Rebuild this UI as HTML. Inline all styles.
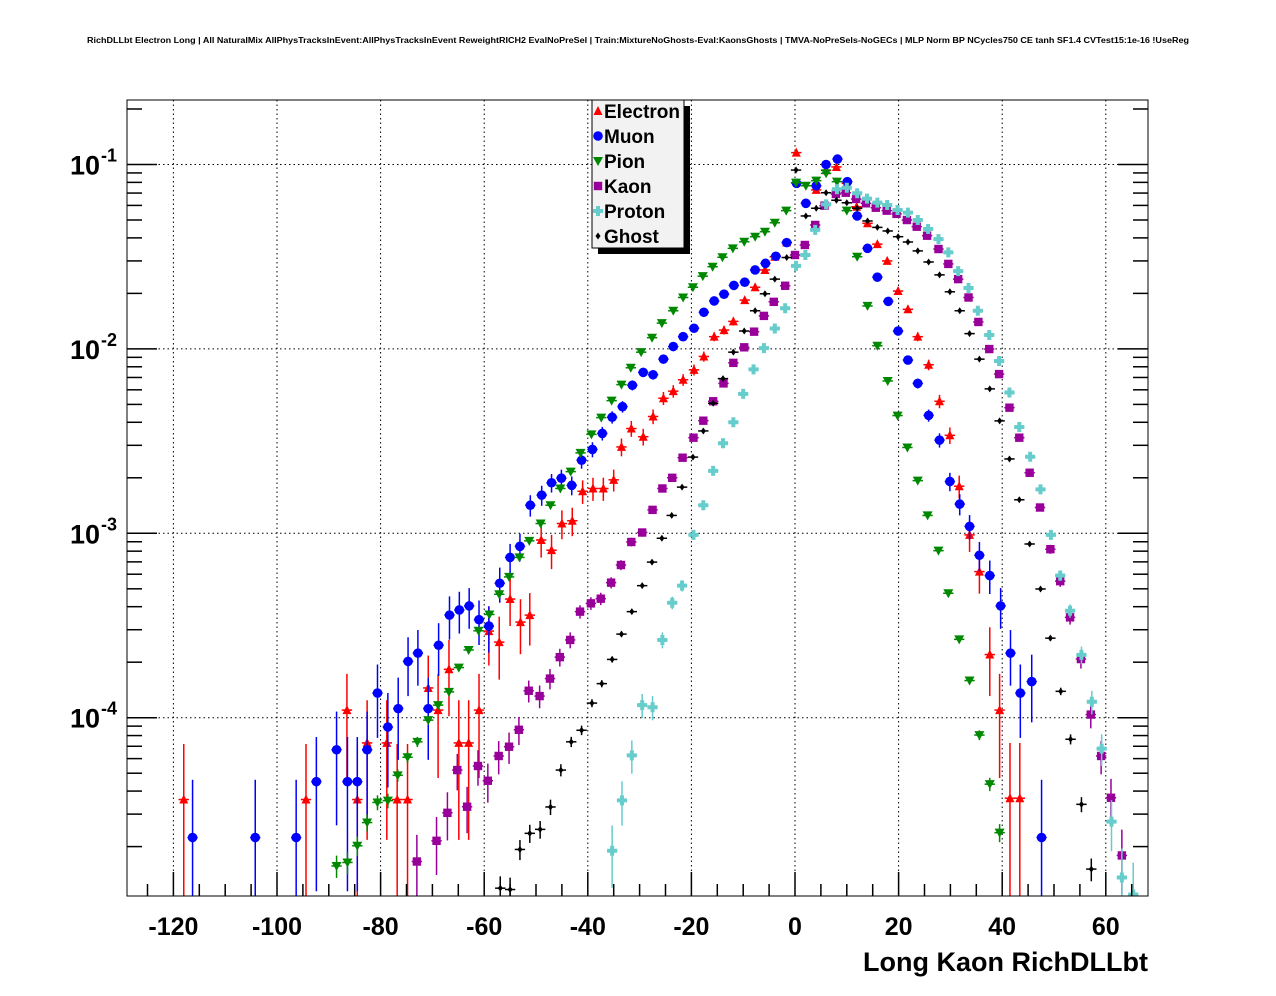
<!DOCTYPE html>
<html><head><meta charset="utf-8"><style>
html,body{margin:0;padding:0;background:#fff;overflow:hidden;width:1276px;height:996px;}
svg{display:block;font-family:"Liberation Sans",Arial,sans-serif;}
</style></head><body>
<svg id="chart" width="1276" height="996" viewBox="0 0 1276 996" xmlns="http://www.w3.org/2000/svg" overflow="hidden">
<rect x="0" y="0" width="1276" height="996" fill="#fff"/>
<text x="638" y="43" font-size="8" font-weight="bold" text-anchor="middle" textLength="1102" lengthAdjust="spacingAndGlyphs">RichDLLbt Electron Long | All NaturalMix AllPhysTracksInEvent:AllPhysTracksInEvent ReweightRICH2 EvalNoPreSel | Train:MixtureNoGhosts-Eval:KaonsGhosts | TMVA-NoPreSels-NoGECs | MLP Norm BP NCycles750 CE tanh SF1.4 CVTest15:1e-16 !UseReg</text>
<defs><clipPath id="frameClip"><rect x="127" y="100" width="1021" height="796"/></clipPath></defs>
<g id="grid"></g>
<g id="marks" clip-path="url(#frameClip)"></g>
<rect x="127" y="100" width="1021" height="796" fill="none" stroke="#000" stroke-width="1"/>
<g id="axes"></g>
<text x="1148" y="971" font-size="27" font-weight="bold" text-anchor="end">Long Kaon RichDLLbt</text>
<g id="legend">
<rect x="598" y="106" width="92" height="148" fill="#000"/>
<rect x="592" y="100" width="92" height="148" fill="#f2f2f2" stroke="#000" stroke-width="1"/>
</g>
</svg>
<script>
// Data arrays (x = Long Kaon RichDLLbt, y = normalised entries)
const electronX=[-118,-94.4,-86.5,-84.5,-82.6,-78.8,-76.8,-74.8,-70.8,-68.9,-66.8,-64.9,-63,-61,-59.1,-57.1,-55,-53,-51.2,-49,-47,-45,-43,-41,-39,-37,-35,-33.5,-31.6,-29.3,-27.4,-25.4,-23.5,-21.6,-19.5,-17.6,-15.6,-13.7,-11.9,-9.7,-7.7,-5.8,-3.9,-1.6,0.25,4.1,6,8,10,11.9,14,15.9,17.8,19.9,21.8,23.7,25.8,27.9,29.9,31.7,33.7,35.6,37.6,39.5,41.5,43.4];
const electronY=[3.6e-5,3.6e-5,1.1e-4,3.6e-5,7.3e-5,7.3e-5,3.6e-5,3.6e-5,1.45e-4,1.1e-4,1.83e-4,7.3e-5,7.3e-5,1.1e-4,2.95e-4,2.57e-4,4.4e-4,3.3e-4,3.6e-4,9.2e-4,8.1e-4,1.13e-3,1.17e-3,1.69e-3,1.75e-3,1.75e-3,1.95e-3,2.94e-3,3.7e-3,3.34e-3,4.3e-3,5.4e-3,5.9e-3,6.8e-3,7.7e-3,9.1e-3,0.01165,0.01265,0.0141,0.0184,0.0216,0.0268,0.0316,0.0378,0.116,0.0728,0.093,0.097,0.079,0.059,0.048,0.037,0.030,0.0206,0.0164,0.01165,8.2e-3,5.2e-3,3.4e-3,1.8e-3,9.8e-4,6.2e-4,2.2e-4,1.1e-4,3.66e-5,3.66e-5];
const muonX=[-116.3,-104.2,-96.3,-92.4,-88.5,-86.4,-84.5,-82.6,-80.6,-78.6,-76.6,-74.7,-72.8,-70.8,-68.8,-66.7,-64.8,-62.9,-61,-59.1,-57,-55,-53.1,-51.1,-48.9,-47,-45.1,-43.1,-41.2,-39.1,-37.2,-35.3,-33.3,-31.4,-29.3,-27.4,-25.4,-23.5,-21.6,-19.5,-17.6,-15.6,-13.7,-11.8,-9.7,-7.7,-5.7,-3.7,-1.6,0.3,2.1,4.1,6,8.2,10.1,12,14,15.9,18,19.9,21.8,23.7,25.8,27.9,29.9,31.8,33.7,35.6,37.6,39.7,41.6,43.5,45.7,47.6];
const muonY=[2.24e-5,2.24e-5,2.24e-5,4.5e-5,6.7e-5,4.5e-5,4.5e-5,6.7e-5,1.36e-4,8.9e-5,1.12e-4,2.02e-4,2.24e-4,1.12e-4,2.47e-4,3.6e-4,3.84e-4,4.04e-4,3.4e-4,3.14e-4,5.36e-4,7.4e-4,8.5e-4,1.42e-3,1.61e-3,1.88e-3,1.99e-3,1.82e-3,2.49e-3,2.85e-3,3.48e-3,4.26e-3,4.86e-3,6.35e-3,7.46e-3,7.24e-3,8.8e-3,0.0103,0.01165,0.01294,0.0158,0.0182,0.0198,0.0221,0.023,0.0268,0.0291,0.0318,0.0377,0.079,0.0616,0.0767,0.1,0.107,0.0807,0.0526,0.0351,0.0245,0.0181,0.0125,8.7e-3,6.5e-3,4.36e-3,3.2e-3,1.91e-3,1.44e-3,1.09e-3,7.6e-4,5.9e-4,4.04e-4,2.24e-4,1.36e-4,1.57e-4,2.24e-5];
const pionX=[-88.5,-86.4,-84.5,-82.6,-80.6,-78.6,-76.7,-74.8,-72.9,-70.8,-68.9,-66.8,-64.9,-63,-61.1,-59,-57.1,-55.2,-53.2,-51.3,-49.1,-47.2,-45.3,-43.3,-41.4,-39.3,-37.4,-35.4,-33.5,-31.7,-29.7,-27.6,-25.7,-23.5,-21.6,-19.7,-17.8,-15.9,-14,-12,-9.8,-7.7,-5.8,-3.9,-1.7,0.2,2.1,4.1,6,8.1,10,12,14,15.9,17.9,19.8,21.7,23.7,25.6,27.7,29.6,31.7,33.7,35.6,37.6,39.5];
const pionY=[1.57e-5,1.64e-5,2.02e-5,2.7e-5,3.47e-5,3.55e-5,4.87e-5,6.1e-5,7.4e-5,9.7e-5,1.17e-4,1.38e-4,1.87e-4,2.33e-4,2.96e-4,3.63e-4,4.67e-4,5.8e-4,7.4e-4,9.1e-4,1.13e-3,1.42e-3,1.75e-3,2.16e-3,2.73e-3,3.44e-3,4.24e-3,5.24e-3,6.4e-3,7.9e-3,9.6e-3,0.0115,0.0138,0.0161,0.019,0.0216,0.0248,0.0279,0.0314,0.0351,0.0381,0.0406,0.0432,0.0483,0.0562,0.0797,0.0767,0.0817,0.0896,0.0807,0.0562,0.0316,0.0171,0.0104,6.7e-3,4.35e-3,2.92e-3,1.93e-3,1.25e-3,8.05e-4,4.73e-4,2.66e-4,1.59e-4,8.05e-5,4.36e-5,2.38e-5];
const kaonX=[-73,-69.2,-67.1,-65.2,-63.3,-61.2,-59.3,-57.2,-55.2,-53.3,-51.4,-49.3,-47.3,-45.4,-43.4,-41.5,-39.4,-37.5,-35.5,-33.6,-31.6,-29.5,-27.5,-25.6,-23.7,-21.7,-19.6,-17.7,-15.8,-13.8,-11.9,-9.8,-7.9,-6,-4.1,-1.9,0,1.9,3.9,5.7,7.9,9.8,11.8,13.7,15.6,17.7,19.6,21.6,23.5,25.5,27.7,29.6,31.5,33.5,35.4,37.5,39.4,41.4,43.3,45.3,47.3,49.3,51.2,53.1,55.2,57.1,59.1,61,63.1];
const kaonY=[1.66e-5,2.15e-5,3.05e-5,5.2e-5,3.29e-5,5.47e-5,4.55e-5,6.2e-5,6.96e-5,8.6e-5,1.4e-4,1.31e-4,1.63e-4,2.13e-4,2.64e-4,3.76e-4,4.17e-4,4.42e-4,5.4e-4,6.73e-4,8.97e-4,1.01e-3,1.34e-3,1.75e-3,2e-3,2.57e-3,3.3e-3,4.08e-3,5.2e-3,6.5e-3,8.4e-3,0.0102,0.0124,0.0151,0.018,0.022,0.0323,0.0366,0.047,0.0598,0.0692,0.0703,0.065,0.0616,0.0583,0.0562,0.054,0.05,0.046,0.0411,0.0348,0.0289,0.0239,0.019,0.014,9.98e-3,7.3e-3,4.8e-3,3.3e-3,2.13e-3,1.38e-3,8.2e-4,5.5e-4,3.5e-4,2.08e-4,1.04e-4,6.2e-5,3.68e-5,1.79e-5];
const protonX=[-35.3,-33.4,-31.5,-29.5,-27.5,-25.6,-23.7,-21.8,-19.6,-17.7,-15.8,-13.9,-11.9,-10,-8,-6,-3.9,-1.9,0.2,2,3.9,6,8.1,10,12,13.9,15.9,17.8,19.8,21.8,23.7,25.7,27.7,29.6,31.5,33.5,35.3,37.5,39.4,41.4,43.3,45.4,47.4,49.4,51.2,53.1,55.3,57.3,59.2,61.1,63.1,65.3];
const protonY=[1.9e-5,3.56e-5,6.25e-5,1.17e-4,1.14e-4,2.64e-4,4.2e-4,5.2e-4,9.8e-4,1.42e-3,2.18e-3,3.08e-3,4e-3,5.7e-3,7.75e-3,0.0101,0.0129,0.0166,0.0282,0.0323,0.0442,0.0608,0.0734,0.0748,0.0698,0.0653,0.0621,0.0603,0.0567,0.0548,0.05,0.0447,0.0394,0.0334,0.0264,0.0214,0.0161,0.0119,8.6e-3,5.8e-3,3.77e-3,2.6e-3,1.73e-3,9.8e-4,5.9e-4,3.8e-4,2.19e-4,1.22e-4,6.8e-5,2.73e-5,1.36e-5,1.1e-5];
const ghostX=[-56.9,-55,-53.1,-51.2,-49.2,-47.2,-45.2,-43.2,-41.2,-39.2,-37.3,-35.3,-33.5,-31.5,-29.5,-27.6,-25.7,-23.8,-21.8,-19.7,-17.7,-15.8,-13.9,-11.9,-9.8,-7.7,-5.8,-3.9,-1.6,0.2,2.1,4.1,6,8,10,12,14,15.9,17.9,19.9,21.8,23.7,25.8,27.9,29.9,31.8,33.7,35.6,37.6,39.5,41.4,43.3,45.3,47.4,49.3,51.3,53.2,55.3,57.2];
const ghostY=[1.19e-5,1.17e-5,1.93e-5,2.36e-5,2.48e-5,3.28e-5,5.2e-5,7.4e-5,8.55e-5,1.2e-4,1.53e-4,2.07e-4,2.84e-4,3.76e-4,5.2e-4,6.98e-4,9.4e-4,1.25e-3,1.78e-3,2.59e-3,3.59e-3,5.07e-3,6.9e-3,9.6e-3,0.0125,0.0161,0.0199,0.0239,0.0313,0.0933,0.0526,0.0579,0.0703,0.064,0.062,0.0579,0.0494,0.0456,0.0436,0.0406,0.038,0.034,0.0296,0.0252,0.0204,0.0161,0.0121,8.8e-3,6.07e-3,4.07e-3,2.53e-3,1.52e-3,8.75e-4,4.99e-4,2.7e-4,1.39e-4,7.64e-5,3.39e-5,1.51e-5];
const seriesNames=["Electron","Muon","Pion","Kaon","Proton","Ghost"];
const xTickLabels=["-120","-100","-80","-60","-40","-20","0","20","40","60"];
const yTickExps=["-1","-2","-3","-4"];

const NS="http://www.w3.org/2000/svg";
const X0=795, XS=5.18, Y1=164.5, DEC=184.4;
function xPx(v){return X0+XS*v;}
function yPx(v){return Y1+(-1-Math.log10(v))*DEC;}
function clampY(p){return Math.max(100,Math.min(896,p));}
function mk(tag,attrs,parent){const e=document.createElementNS(NS,tag);for(const k in attrs)e.setAttribute(k,attrs[k]);parent.appendChild(e);return e;}
const grid=document.getElementById('grid'), marks=document.getElementById('marks'), axes=document.getElementById('axes'), legend=document.getElementById('legend');

xTickLabels.forEach(function(t){
  const v=parseFloat(t), px=xPx(v);
  const g=mk('line',{x1:px,x2:px,y1:100,y2:896,stroke:'#000','stroke-width':1,'stroke-dasharray':'1.5,3'},grid);
  
  
  const tk=mk('line',{x1:px,x2:px,y1:872,y2:896,stroke:'#000','stroke-width':1.5},axes);
  
  
  const lb=mk('text',{x:px,y:935,'font-size':25,'font-weight':'bold','text-anchor':'middle'},axes);
  lb.textContent=t;
  
  
});
for(let v=-125;v<=65;v+=5){
  if(v%20===0) continue;
  const px=xPx(v); if(px<127||px>1148) continue;
  const tk=mk('line',{x1:px,x2:px,y1:884,y2:896,stroke:'#000','stroke-width':1.5},axes);
  
  
}
yTickExps.forEach(function(e){
  const v=Math.pow(10,parseFloat(e)), py=yPx(v);
  const g=mk('line',{x1:127,x2:1148,y1:py,y2:py,stroke:'#000','stroke-width':1,'stroke-dasharray':'1.5,3'},grid);
  
  
  const t=mk('text',{x:100,y:py+10,'font-size':27,'font-weight':'bold','text-anchor':'end'},axes);
  t.textContent='10';
  
  
  const s=mk('text',{x:101,y:py-3,'font-size':18,'font-weight':'bold','text-anchor':'start'},axes);
  s.textContent=e;
  
  
});
for(let d=-5;d<=-1;d++){
  for(let m=1;m<=9;m++){
    const v=m*Math.pow(10,d), py=yPx(v);
    if(py<100||py>896) continue;
    const len=(m===1)?30:15;
    [[127,127+len],[1148-len,1148]].forEach(function(p){
      const tk=mk('line',{x1:p[0],x2:p[1],y1:py,y2:py,stroke:'#000','stroke-width':1.5},axes);
      
      
    });
  }
}

function marker(type,cx,cy,color,parent){
  let e;
  if(type==='tu') e=mk('polygon',{points:(cx-4.5)+','+(cy+4)+' '+(cx+4.5)+','+(cy+4)+' '+cx+','+(cy-5),fill:color},parent);
  else if(type==='td') e=mk('polygon',{points:(cx-5)+','+(cy-4)+' '+(cx+5)+','+(cy-4)+' '+cx+','+(cy+5),fill:color},parent);
  else if(type==='c') e=mk('circle',{cx:cx,cy:cy,r:4.8,fill:color},parent);
  else if(type==='s') e=mk('rect',{x:cx-4.2,y:cy-4.2,width:8.4,height:8.4,fill:color},parent);
  else if(type==='p') e=mk('path',{d:'M'+(cx-5)+' '+(cy-2)+'h3v-3h4v3h3v4h-3v3h-4v-3h-3z',fill:color},parent);
  else e=mk('polygon',{points:cx+','+(cy-3.5)+' '+(cx+2.5)+','+cy+' '+cx+','+(cy+3.5)+' '+(cx-2.5)+','+cy,fill:color},parent);
  return e;
}
const seriesX=[electronX,muonX,pionX,kaonX,protonX,ghostX];
const seriesY=[electronY,muonY,pionY,kaonY,protonY,ghostY];
const colors=["#ff0000","#0000ff","#008800","#990099","#66cccc","#000000"];
const types=["tu","c","td","s","p","d"];
const errScale=[3.6e-5,2.5e-5,3e-7,2.6e-6,2.6e-6,3e-7];
seriesNames.forEach(function(name,si){
  const g=mk('g',{},marks);
  
  
  const xs=seriesX[si], ys=seriesY[si], col=colors[si];
  xs.forEach(function(xv,i){
    const yv=ys[i], px=xPx(xv), py=yPx(yv);
    const err=Math.sqrt(errScale[si]*yv);
    const top=clampY(yPx(yv+err)), lo=yv-err>1e-7?clampY(yPx(yv-err)):896;
    mk('line',{x1:px,x2:px,y1:top,y2:lo,stroke:col,'stroke-width':1.5},g);
    mk('line',{x1:px-XS,x2:px+XS,y1:py,y2:py,stroke:col,'stroke-width':1.5},g);
    const m=marker(types[si],px,py,col,g);
    
    
  });
});

seriesNames.forEach(function(name,i){
  const cy=111+i*25;
  const m=marker(types[i],598,cy,colors[i],legend);
  
  
  const t=mk('text',{x:604,y:cy+7,'font-size':19,'font-weight':'bold'},legend);
  t.textContent=name;
  
  
});
</script>
</body></html>
